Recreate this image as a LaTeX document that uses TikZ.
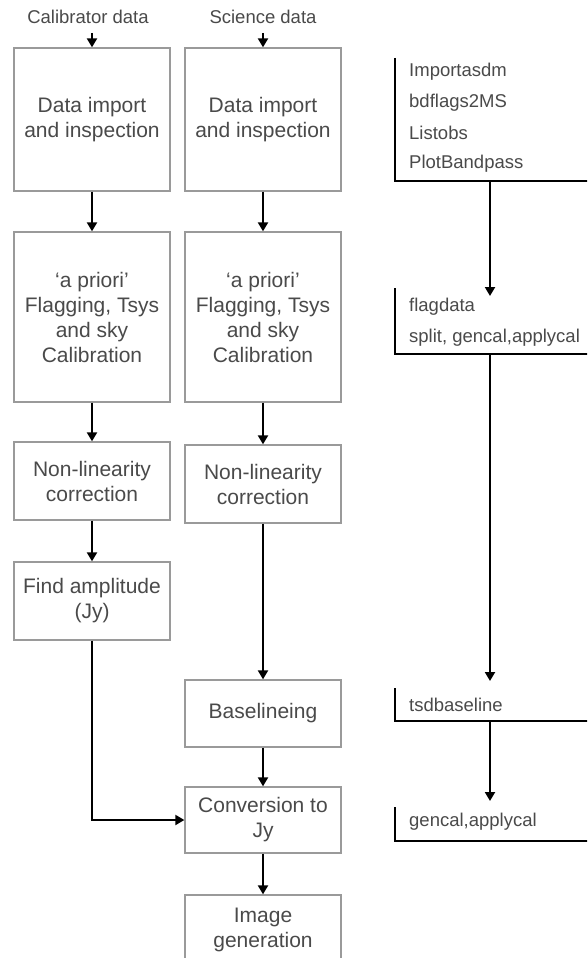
\documentclass[tikz,border=0pt]{standalone}
\usepackage{fontspec}
\setmainfont{Liberation Sans}
\usetikzlibrary{arrows.meta}
\definecolor{txtgray}{HTML}{4A4A4A}
\definecolor{boxgray}{HTML}{9A9A9A}

\begin{document}
\begin{tikzpicture}[x=1pt, y=-1pt,
        stage/.style={draw=boxgray, line width=1.3pt, minimum width=156pt, align=center, text=txtgray, font=\fontsize{21}{25}\selectfont},
        task/.style={anchor=west, text=txtgray, inner sep=0pt, font=\fontsize{18.5}{22}\selectfont},
        flow/.style={line width=2pt, -{Triangle[length=9pt, width=10pt]}},
        bracket/.style={line width=2pt}]
        \clip (0,0) rectangle (587,958);
        \fill[white] (0,0) rectangle (587,958);
        % input labels
        \node[task, anchor=center] (callabel) at (88,17) {Calibrator data};
        \node[task, anchor=center] (scilabel) at (263,17) {Science data};
        \coordinate (calin) at (92,33);
        \coordinate (sciin) at (263,33);
        % calibrator column
        \node[stage, minimum height=143pt] (calimport) at (92,119.5) {Data import\\and inspection};
        \node[stage, minimum height=170pt] (calflag) at (92,317) {`a priori'\\Flagging, Tsys\\and sky\\Calibration};
        \node[stage, minimum height=78pt] (callin) at (92,481) {Non-linearity\\correction};
        \node[stage, minimum height=78pt] (calamp) at (92,601) {Find amplitude\\(Jy)};
        % science column
        \node[stage, minimum height=143pt] (sciimport) at (263,119.5) {Data import\\and inspection};
        \node[stage, minimum height=170pt] (sciflag) at (263,317) {`a priori'\\Flagging, Tsys\\and sky\\Calibration};
        \node[stage, minimum height=78pt] (scilin) at (263,484) {Non-linearity\\correction};
        \node[stage, minimum height=67pt] (scibase) at (263,713.5) {Baselineing};
        \node[stage, minimum height=66pt] (convert) at (263,820) {Conversion to\\Jy};
        \node[stage, minimum height=70pt] (imaging) at (263,930) {Image\\generation};
        % arrows
        \draw[flow] (calin) -- (calimport.north);
        \draw[flow] (sciin) -- (sciimport.north);
        \draw[flow] (calimport) -- (calflag);
        \draw[flow] (calflag) -- (callin);
        \draw[flow] (callin) -- (calamp);
        \draw[flow] (sciimport) -- (sciflag);
        \draw[flow] (sciflag) -- (scilin);
        \draw[flow] (scilin) -- (scibase);
        \draw[flow] (scibase) -- (convert);
        \draw[flow] (convert) -- (imaging);
        \draw[flow] (calamp.south) |- (convert.west);
        % CASA tasks
        \node[task] (importasdm) at (409,72) {Importasdm};
        \node[task] (bdflags) at (409,103) {bdflags2MS};
        \node[task] (listobs) at (409,133) {Listobs};
        \node[task] (plotbp) at (409,164) {PlotBandpass};
        \node[task] (flagdata) at (409,307) {flagdata};
        \node[task] (split) at (409,338) {split, gencal,applycal};
        \node[task] (tsdbase) at (409,705) {tsdbaseline};
        \node[task] (applycal) at (409,822) {gencal,applycal};
        \draw[bracket] (395,58) -- (395,181) -- (595,181);
        \draw[bracket] (395,288) -- (395,354) -- (595,354);
        \draw[bracket] (395,688) -- (395,721) -- (595,721);
        \draw[bracket] (395,807) -- (395,841) -- (595,841);
        \coordinate (b1) at (490,181);
        \coordinate (t2) at (490,296);
        \coordinate (b2) at (490,354);
        \coordinate (t3) at (490,681);
        \coordinate (b3) at (490,721);
        \coordinate (t4) at (490,801);
        \draw[flow] (b1) -- (t2);
        \draw[flow] (b2) -- (t3);
        \draw[flow] (b3) -- (t4);
\end{tikzpicture}
\end{document}
